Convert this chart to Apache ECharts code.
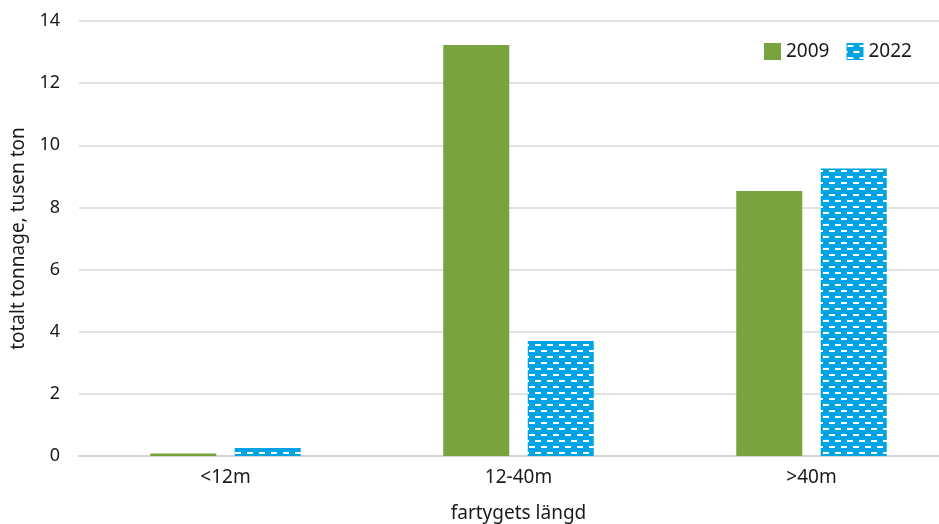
<!DOCTYPE html>
<html><head><meta charset="utf-8">
<script src="https://cdn.jsdelivr.net/npm/echarts@6/dist/echarts.min.js"></script>
<style>html,body{margin:0;padding:0;background:#fff}#c{width:939px;height:524px}</style>
</head><body><div id="c"></div>
<script>
const categories = ['<12m', '12-40m', '>40m'];
const seriesNames = ['2009', '2022'];
const values2009 = [0.08, 13.23, 8.53];
const values2022 = [0.26, 3.7, 9.25];
const yTicks = [0, 2, 4, 6, 8, 10, 12, 14];

function makePattern() {
  const c = document.createElement('canvas');
  c.width = 12; c.height = 12;
  const g = c.getContext('2d');
  g.fillStyle = '#00a3e4';
  g.fillRect(0, 0, 12, 12);
  g.fillStyle = '#ffffff';
  g.fillRect(1, 2, 6, 2);
  g.fillRect(7, 8, 5, 2);
  g.fillRect(0, 8, 1, 2);
  return { image: c, repeat: 'repeat' };
}

const font = 'Noto Sans';
const chart = echarts.init(document.getElementById('c'), null, { renderer: 'canvas' });
chart.setOption({
  animation: false,
  textStyle: { fontFamily: font },
  grid: { left: 79, top: 21, width: 879, height: 435, containLabel: false, outerBoundsMode: 'none' },
  legend: {
    left: 759, top: 37,
    icon: 'rect',
    itemWidth: 17, itemHeight: 17, itemGap: 17,
    textStyle: { fontSize: 19, color: '#1a1a1a', fontFamily: font },
    data: seriesNames
  },
  xAxis: {
    type: 'category', data: categories,
    name: 'fartygets längd', nameLocation: 'middle', nameGap: 48,
    nameTextStyle: { fontSize: 19, color: '#1a1a1a', fontFamily: font },
    axisLine: { lineStyle: { color: '#d4d4d4', width: 2 } },
    axisTick: { show: false },
    axisLabel: { fontSize: 19, color: '#1a1a1a', margin: 12, fontFamily: font }
  },
  yAxis: {
    type: 'value', min: yTicks[0], max: yTicks[yTicks.length - 1], interval: 2,
    name: 'totalt tonnage, tusen ton', nameLocation: 'middle', nameGap: 50, nameRotate: 90,
    nameTextStyle: { fontSize: 19, color: '#1a1a1a', fontFamily: font },
    axisLine: { show: false }, axisTick: { show: false },
    axisLabel: { fontSize: 18, color: '#1a1a1a', margin: 19, fontFamily: font },
    splitLine: { lineStyle: { color: '#d9d9d9', width: 1.5 } }
  },
  series: [
    { name: seriesNames[0], type: 'bar', data: values2009, barWidth: 66, barGap: '28%',
      itemStyle: { color: '#79a33e' } },
    { name: seriesNames[1], type: 'bar', data: values2022, barWidth: 66, barGap: '28%',
      itemStyle: { color: makePattern() } }
  ]
});
</script></body></html>
